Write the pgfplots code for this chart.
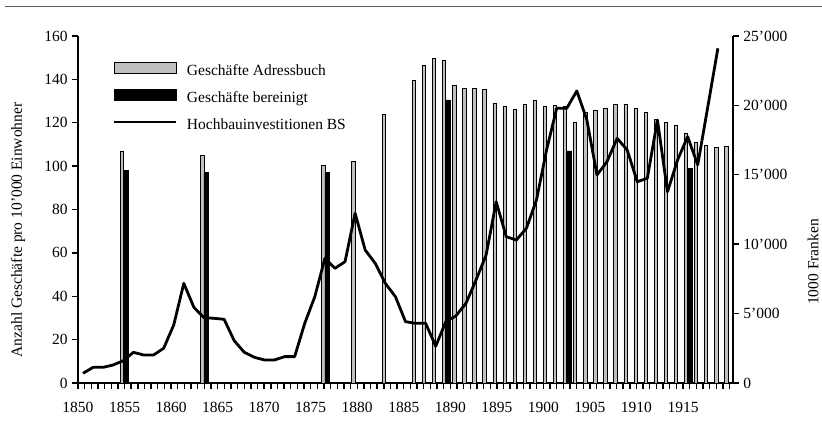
\documentclass[border=0pt]{standalone}
\usepackage{fontspec}
\setmainfont{Liberation Serif}
\usepackage{pgfplots}
\pgfplotsset{compat=1.18}
\definecolor{barGray}{RGB}{192,192,192}
\definecolor{ruleGray}{RGB}{95,95,95}
\begin{document}
\fontsize{15.5bp}{18bp}\selectfont
\begin{tikzpicture}
\begin{axis}[
  scale only axis, width=655bp, height=347bp,
  xmin=1849.5, xmax=1914.5, ymin=0, ymax=160,
  axis x line*=bottom, axis y line*=left,
  axis line style={line width=1.2bp, -},
  xtick pos=lower, ytick pos=lower,
  tick style={black, line width=1.4bp},
  minor tick style={black, line width=1.4bp},
  tick align=outside,
  major tick length=6bp, minor tick length=6bp,
  xtick={1849.5,1854.1185,1858.737,1863.3555,1867.974,1872.5925,1877.211,1881.8295,1886.448,1891.0665,1895.685,1900.3035,1904.922,1909.5405,1914.159},
  xticklabels={\mbox{1850},\mbox{1855},\mbox{1860},\mbox{1865},\mbox{1870},\mbox{1875},\mbox{1880},\mbox{1885},\mbox{1890},\mbox{1895},\mbox{1900},\mbox{1905},\mbox{1910},\mbox{1915},{}},
  minor xtick={1849.5,1850.1598,...,1914.5},
  ytick={0,20,40,60,80,100,120,140,160},
  yticklabels={\mbox{0},\mbox{20},\mbox{40},\mbox{60},\mbox{80},\mbox{100},\mbox{120},\mbox{140},\mbox{160}},
  scaled y ticks=false,
  xticklabel style={yshift=-8bp},
  yticklabel style={xshift=1bp},
  legend cell align=left,
  legend style={at={(axis description cs:0.0534,0.9265)}, anchor=north west, draw=none, fill=none,
    inner sep=0pt, outer sep=0pt, row sep=8.5bp,
    nodes={text height=11bp, text depth=3.5bp, inner sep=2bp},
    /tikz/every odd column/.append style={column sep=8bp}},
]
\addplot[ybar, bar width=3.3bp, bar shift=-1.65bp, fill=barGray, draw=black, line width=0.7bp, forget plot] coordinates {
(1854,107) (1862,105) (1874,100.5) (1877,102) (1880,124) (1883,139.5) (1884,146.5) (1885,149.7) (1886,148.6) (1887,137.1) (1888,136) (1889,136) (1890,135.3) (1891,129.1) (1892,127.4) (1893,126.3) (1894,128.5) (1895,130.2) (1896,127.4) (1897,128) (1898,127.5) (1899,120) (1900,124.6) (1901,125.9) (1902,126.5) (1903,128.6) (1904,128.6) (1905,126.5) (1906,124.6) (1907,121.7) (1908,120) (1909,119) (1910,115) (1911,111) (1912,109.6) (1913,108.8) (1914,109)
};
\addplot[ybar, bar width=4.6bp, bar shift=2.3bp, fill=black, draw=black, line width=0.3bp, forget plot] coordinates {
(1854,98) (1862,97) (1874,97) (1886,130.5) (1898,107) (1910,99)
};
\addlegendimage{legend image code/.code={\draw[fill=barGray,draw=black,line width=0.9bp] (0bp,-1.5bp) rectangle (62bp,9.5bp);}}
\addlegendentry{Geschäfte Adressbuch}
\addlegendimage{legend image code/.code={\draw[fill=black,draw=black,line width=0.9bp] (0bp,-1.5bp) rectangle (62bp,9.5bp);}}
\addlegendentry{Geschäfte bereinigt}
\addlegendimage{legend image code/.code={\draw[black,line width=2bp] (0bp,4bp) -- (62bp,4bp);}}
\addlegendentry{Hochbauinvestitionen BS}
\end{axis}
\begin{axis}[
  scale only axis, width=655bp, height=347bp,
  xmin=1849.5, xmax=1914.5, ymin=0, ymax=25000,
  axis y line*=right, axis x line=none,
  axis line style={line width=1.2bp, -},
  ytick pos=upper,
  tick style={black, line width=1.4bp},
  tick align=outside,
  major tick length=6bp,
  ytick={0,5000,10000,15000,20000,25000},
  yticklabels={\mbox{0},\mbox{5'000},\mbox{10'000},\mbox{15'000},\mbox{20'000},\mbox{25'000}},
  yticklabel style={xshift=-1bp},
  scaled y ticks=false,
]
\addplot[black, line width=2.8bp, line join=round] coordinates {
(1850,700) (1851,1130) (1852,1130) (1853,1300) (1854,1610) (1855,2210) (1856,2020) (1857,2020) (1858,2500) (1859,4180)
(1860,7180) (1861,5450) (1862,4710) (1863,4660) (1864,4590) (1865,3050) (1866,2210) (1867,1850) (1868,1660) (1869,1660)
(1870,1900) (1871,1900) (1872,4300) (1873,6220) (1874,8980) (1875,8260) (1876,8740) (1877,12230) (1878,9580) (1879,8620)
(1880,7180) (1881,6220) (1882,4420) (1883,4300) (1884,4300) (1885,2650) (1886,4420) (1887,4830) (1888,5740) (1889,7420)
(1890,9220) (1891,13060) (1892,10540) (1893,10300) (1894,11150) (1895,13190) (1896,16790) (1897,19790) (1898,19790) (1899,21040)
(1900,18950) (1901,14990) (1902,15950) (1903,17630) (1904,16790) (1905,14500) (1906,14750) (1907,18950) (1908,13780) (1909,16070)
(1910,17750) (1911,15710) (1912,19900) (1913,24110)
};
\end{axis}
\node[rotate=90, anchor=center] at (-60bp,153bp) {Anzahl Geschäfte pro 10'000 Einwohner};
\node[rotate=90, anchor=center] at (735bp,121bp) {1000 Franken};
\draw[ruleGray, line width=1.2bp] (-73bp,376.5bp) -- (744bp,376.5bp);
\pgfresetboundingbox
\path[use as bounding box] (-78bp,-53bp) rectangle (744bp,383bp);
\end{tikzpicture}
\end{document}
